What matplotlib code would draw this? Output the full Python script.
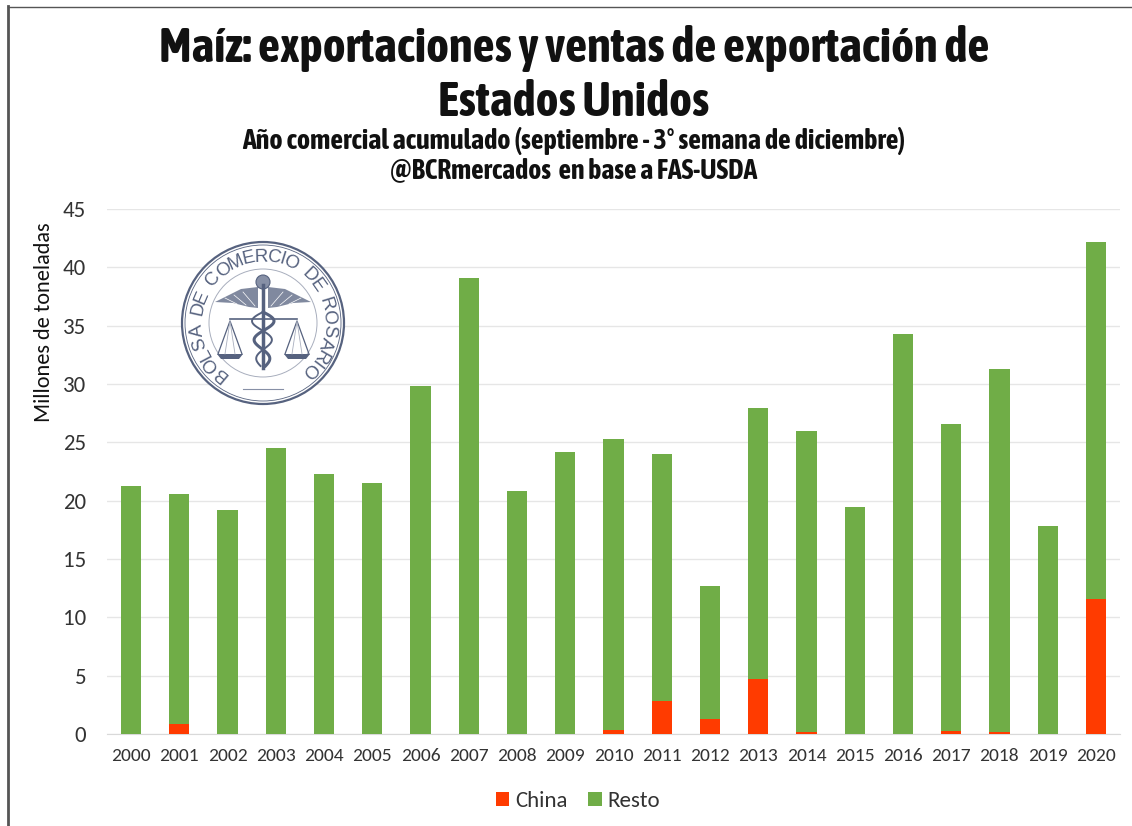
import matplotlib
matplotlib.use('Agg')
import matplotlib.pyplot as plt
import numpy as np
from matplotlib.font_manager import FontProperties
from matplotlib.patches import Circle, Polygon
from matplotlib.textpath import TextPath

years = [str(y) for y in range(2000, 2021)]
china = [0, 0.9, 0, 0, 0, 0, 0, 0, 0, 0, 0.35, 2.8, 1.3, 4.7, 0.15, 0, 0, 0.25, 0.15, 0, 11.6]
total = [21.3, 20.6, 19.2, 24.5, 22.3, 21.5, 29.8, 39.1, 20.8, 24.2, 25.3, 24.0, 12.7, 27.9, 26.0, 19.5, 34.3, 26.6, 31.3, 17.8, 42.2]
resto = [t - c for t, c in zip(total, china)]
yticks = list(range(0, 50, 5))

plt.rcParams['font.family'] = ['Carlito', 'Open Sans', 'DejaVu Sans']

fig = plt.figure(figsize=(11.32, 8.26), dpi=100)
ax = fig.add_axes([107 / 1132, 1 - 734 / 826, (1120 - 107) / 1132, (734 - 209) / 826])

x = np.arange(len(years))
ax.bar(x, china, 0.42, color='#ff3b00', label='China', zorder=3)
ax.bar(x, resto, 0.42, bottom=china, color='#70ad47', label='Resto', zorder=3)

ax.set_xlim(-0.5, 20.5)
ax.set_ylim(0, 45)
ax.set_xticks(x)
ax.set_xticklabels(years, fontsize=14, color='#333333')
ax.set_yticks(yticks)
ax.set_yticklabels(yticks, fontsize=16.5, color='#333333')
ax.tick_params(length=0)
ax.tick_params(axis='x', pad=10)
ax.tick_params(axis='y', pad=15)
ax.grid(axis='y', color='#e6e6e6', lw=1, zorder=0)
for s in ['top', 'right', 'left']:
    ax.spines[s].set_visible(False)
ax.spines['bottom'].set_color('#d9d9d9')

fig.text(44 / 1132, 1 - 322 / 826, 'Millones de toneladas', rotation=90, ha='center', va='center', fontsize=16, color='#111111')

title = {'family': ['Asap Condensed', 'Liberation Sans'], 'weight': 'bold', 'color': '#111111', 'ha': 'center', 'va': 'center'}
fig.text(574 / 1132, 1 - 48 / 826, 'Maíz: exportaciones y ventas de exportación de', fontsize=35, **title)
fig.text(574 / 1132, 1 - 102 / 826, 'Estados Unidos', fontsize=35, **title)
fig.text(574 / 1132, 1 - 141 / 826, 'Año comercial acumulado (septiembre - 3° semana de diciembre)', fontsize=20.2, **title)
fig.text(574 / 1132, 1 - 171 / 826, '@BCRmercados  en base a FAS-USDA', fontsize=20, **title)

# sello de la bolsa, en coordenadas de pixeles
seal = fig.add_axes([0, 0, 1, 1], zorder=5)
seal.set_xlim(0, 1132)
seal.set_ylim(826, 0)
seal.axis('off')
navy = '#56627f'
cx, cy = 263, 323
seal.add_patch(Circle((cx, cy), 81, fc='white', ec=navy, lw=1.6))
seal.add_patch(Circle((cx, cy), 78, fc='none', ec=navy, lw=0.6))
seal.add_patch(Circle((cx, cy), 54, fc='none', ec='#a8aebd', lw=0.7))

# letras en arco, separadas segun su ancho
letters = 'BOLSA DE COMERCIO DE ROSARIO'
fp = FontProperties(family='Liberation Sans')
widths = [TextPath((0, 0), ch, size=10, prop=fp).get_extents().width if ch != ' ' else 3.5 for ch in letters]
widths = np.array(widths) + 1.2
pos = np.cumsum(widths) - widths / 2
pos = (pos - pos[0]) / (pos[-1] - pos[0])
angles = 230 - pos * 275
for ch, ang in zip(letters, angles):
    a = np.radians(ang)
    seal.text(cx + 66 * np.cos(a), cy - 66 * np.sin(a), ch, rotation=ang - 90, rotation_mode='anchor',
              ha='center', va='center', fontsize=13.5, color=navy, family='Liberation Sans')

# alas
for side in (-1, 1):
    seal.add_patch(Polygon([(263 + side * 5, 287), (263 + side * 22, 289), (263 + side * 48, 302), (263 + side * 30, 303), (263 + side * 14, 307), (263 + side * 5, 308)],
                           fc=navy, alpha=0.75, ec='none'))
    for k in range(3):
        seal.plot([263 + side * (8 + k * 9), 263 + side * (20 + k * 9)], [306 - k, 292 + k * 3], color='white', lw=0.5)

# vara y serpiente
seal.plot([263, 263], [285, 368], color=navy, lw=2.5)
seal.add_patch(Circle((263, 282), 7, fc='#8790a6', ec=navy, lw=0.8))
t = np.linspace(312, 366, 120)
amp = 12 - (t - 312) / 9
seal.plot(263 + amp * np.sin((t - 312) / 6), t, color=navy, lw=2.2)
seal.plot(263 - amp * np.sin((t - 312) / 6), t, color=navy, lw=1.4)

# balanzas
seal.plot([230, 297], [319, 319], color=navy, lw=1.2)
for bx in (230, 297):
    seal.plot([bx - 12, bx, bx + 12], [354, 321, 354], color=navy, lw=0.9)
    seal.plot([bx - 5, bx, bx + 5], [354, 321, 354], color='#a8aebd', lw=0.6)
    seal.add_patch(Polygon([(bx - 13, 354), (bx + 13, 354), (bx + 9, 359), (bx - 9, 359)], fc=navy, ec='none'))
seal.plot([243, 283], [389, 389], color='#8790a6', lw=0.8)

# marco de la captura
seal.plot([8, 8], [6, 826], color='#555555', lw=2)
seal.plot([8, 1132], [7, 7], color='#555555', lw=1)

handles, labels = ax.get_legend_handles_labels()
fig.legend(handles, labels, loc='center', bbox_to_anchor=(578 / 1132, 1 - 801 / 826), ncol=2, frameon=False, fontsize=16.5,
           handlelength=0.6, handleheight=0.6, columnspacing=0.9, handletextpad=0.25, labelcolor='#333333')

fig.savefig('out.png', dpi=100)
